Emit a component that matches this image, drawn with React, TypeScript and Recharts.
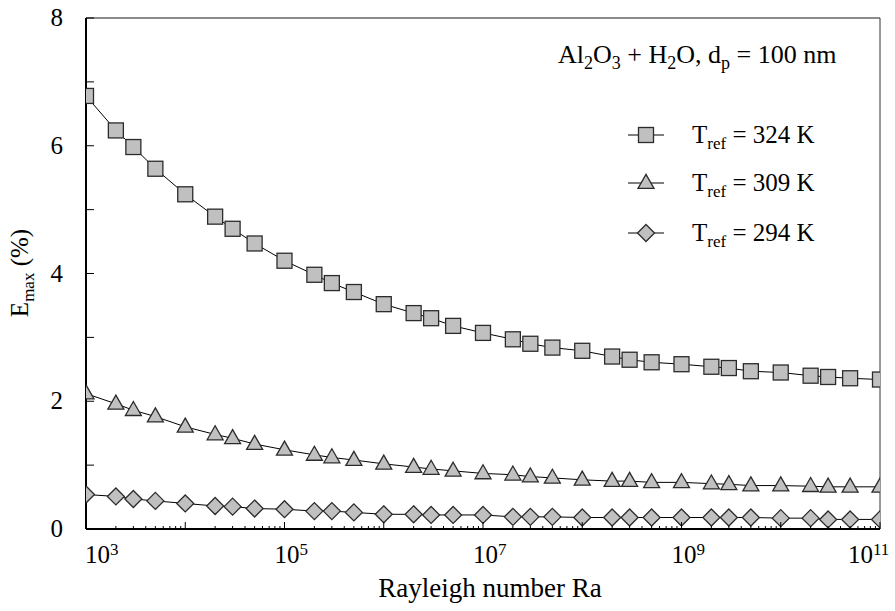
import React from "react";
import { LineChart, Line, XAxis, YAxis, ReferenceLine } from "recharts";

const FONT = "'Liberation Serif', 'DejaVu Serif', 'Times New Roman', serif";

// Rayleigh numbers (1, 2, 3, 5 per decade)
const ra = [
  1e3, 2e3, 3e3, 5e3, 1e4, 2e4, 3e4, 5e4,
  1e5, 2e5, 3e5, 5e5, 1e6, 2e6, 3e6, 5e6,
  1e7, 2e7, 3e7, 5e7, 1e8, 2e8, 3e8, 5e8,
  1e9, 2e9, 3e9, 5e9, 1e10, 2e10, 3e10, 5e10, 1e11,
];

// E_max (%) for each reference temperature
const emax324 = [
  6.78, 6.24, 5.98, 5.64, 5.24, 4.89, 4.7, 4.47,
  4.2, 3.98, 3.85, 3.71, 3.52, 3.38, 3.3, 3.18,
  3.07, 2.97, 2.9, 2.84, 2.79, 2.7, 2.65, 2.61,
  2.58, 2.54, 2.52, 2.47, 2.45, 2.4, 2.38, 2.36, 2.34,
];
const emax309 = [
  2.12, 1.96, 1.86, 1.76, 1.6, 1.48, 1.42, 1.33,
  1.24, 1.16, 1.12, 1.08, 1.02, 0.97, 0.94, 0.91,
  0.87, 0.85, 0.82, 0.8, 0.77, 0.75, 0.75, 0.73,
  0.73, 0.71, 0.7, 0.68, 0.68, 0.67, 0.66, 0.66, 0.66,
];
const emax294 = [
  0.54, 0.51, 0.47, 0.44, 0.4, 0.36, 0.35, 0.32,
  0.31, 0.28, 0.28, 0.26, 0.23, 0.23, 0.22, 0.22,
  0.22, 0.19, 0.19, 0.19, 0.18, 0.18, 0.18, 0.18,
  0.18, 0.18, 0.18, 0.18, 0.17, 0.17, 0.15, 0.15, 0.15,
];

const decades = [1e3, 1e4, 1e5, 1e6, 1e7, 1e8, 1e9, 1e10, 1e11];
const labelledExps = [3, 5, 7, 9, 11];
const minorSteps = [2, 3, 4, 5, 6, 7, 8, 9];
const yTicks = [0, 1, 2, 3, 4, 5, 6, 7, 8];

const xTicks = [
  ...decades,
  ...decades.slice(0, -1).flatMap((d) => minorSteps.map((m) => m * d)),
].sort((a, b) => a - b);

const rows = ra.map((r, i) => ({
  ra: r,
  t324: emax324[i],
  t309: emax309[i],
  t294: emax294[i],
}));

const FILL = "#c0c0c0";
const EDGE = "#2b2b2b";
const textStyle = { fontFamily: FONT };

type Shape = "square" | "triangle" | "diamond";

function Marker({ shape, cx, cy }: { shape: Shape; cx: number; cy: number }) {
  if (shape === "square") {
    return <rect x={cx - 7.5} y={cy - 7.5} width={15} height={15} fill={FILL} stroke={EDGE} strokeWidth={1.3} />;
  }
  if (shape === "triangle") {
    const s = 16, h = 14;
    return (
      <polygon
        points={`${cx},${cy - h * 0.62} ${cx - s / 2},${cy + h * 0.38} ${cx + s / 2},${cy + h * 0.38}`}
        fill={FILL} stroke={EDGE} strokeWidth={1.3}
      />
    );
  }
  const r = 8.5;
  return (
    <polygon
      points={`${cx},${cy - r} ${cx + r},${cy} ${cx},${cy + r} ${cx - r},${cy}`}
      fill={FILL} stroke={EDGE} strokeWidth={1.3}
    />
  );
}

const dotFor = (shape: Shape) => (p: any) => (
  <Marker key={`${shape}-${p.index}`} shape={shape} cx={p.cx} cy={p.cy} />
);

function XTick(props: any) {
  const { x, y, payload } = props;
  const v = payload.value as number;
  const e = Math.round(Math.log10(v));
  const major = Math.abs(v - Math.pow(10, e)) < 1e-6 * v;
  let shift = 0;
  if (e === 3) shift = 9;
  if (e === 11) shift = -22;
  return (
    <g>
      <line x1={x} x2={x} y1={y} y2={y - (major ? 7 : 3)} stroke="#000" strokeWidth={1} />
      {major && labelledExps.includes(e) && (
        <text x={x - 10 + shift} y={y + 34} fontSize={25} style={textStyle} fill="#000">
          10<tspan dy={-8} fontSize={17}>{e}</tspan>
        </text>
      )}
    </g>
  );
}

function YTick(props: any) {
  const { x, y, payload } = props;
  const v = payload.value as number;
  return (
    <g>
      <line x1={x} x2={x + 8} y1={y} y2={y} stroke="#000" strokeWidth={1} />
      {v % 2 === 0 && (
        <text x={x - 23} y={y + 8} textAnchor="end" fontSize={25} style={textStyle} fill="#000">
          {v}
        </text>
      )}
    </g>
  );
}

const legendItems: { shape: Shape; label: string }[] = [
  { shape: "square", label: "324" },
  { shape: "triangle", label: "309" },
  { shape: "diamond", label: "294" },
];
const legendY = [135, 183, 233];

export default function App() {
  return (
    <div style={{ position: "absolute", left: 0, top: 0, width: 895, height: 611, background: "#fff", fontFamily: FONT }}>
      <LineChart width={895} height={611} data={rows} margin={{ top: 18, right: 15, bottom: 81, left: 85 }}>
        <XAxis
          dataKey="ra"
          type="number"
          scale="log"
          domain={[1e3, 1e11]}
          allowDataOverflow
          ticks={xTicks}
          interval={0}
          tickSize={0}
          tickMargin={0}
          tickLine={false}
          tick={<XTick />}
          axisLine={{ stroke: "#000", strokeWidth: 2 }}
          height={1}
        />
        <YAxis
          type="number"
          domain={[0, 8]}
          ticks={yTicks}
          interval={0}
          tickSize={0}
          tickMargin={0}
          tickLine={false}
          tick={<YTick />}
          axisLine={{ stroke: "#000", strokeWidth: 2 }}
          width={1}
        />
        <ReferenceLine y={8} stroke="#666" strokeWidth={1.3} />
        <ReferenceLine x={1e11} stroke="#333" strokeWidth={1} />
        <Line type="linear" dataKey="t324" stroke="#000" strokeWidth={1} dot={dotFor("square")} isAnimationActive={false} />
        <Line type="linear" dataKey="t309" stroke="#000" strokeWidth={1} dot={dotFor("triangle")} isAnimationActive={false} />
        <Line type="linear" dataKey="t294" stroke="#000" strokeWidth={1} dot={dotFor("diamond")} isAnimationActive={false} />
      </LineChart>

      <svg
        width={895}
        height={611}
        style={{ position: "absolute", left: 0, top: 0, pointerEvents: "none", fontFamily: FONT }}
      >
        {/* annotation */}
        <text x={558} y={63} fontSize={26} fill="#000" style={textStyle}>
          Al<tspan dy={6} fontSize={18}>2</tspan>
          <tspan dy={-6}>O</tspan>
          <tspan dy={6} fontSize={18}>3</tspan>
          <tspan dy={-6}> + H</tspan>
          <tspan dy={6} fontSize={18}>2</tspan>
          <tspan dy={-6}>O, d</tspan>
          <tspan dy={6} fontSize={18}>p</tspan>
          <tspan dy={-6}> = 100 nm</tspan>
        </text>

        {/* legend */}
        {legendItems.map((it, i) => (
          <g key={it.label}>
            <line x1={628} x2={664} y1={legendY[i]} y2={legendY[i]} stroke="#000" strokeWidth={1} />
            <Marker shape={it.shape} cx={646} cy={legendY[i]} />
            <text x={692} y={legendY[i] + 8} fontSize={25} fill="#000" style={textStyle}>
              T<tspan dy={6} fontSize={17}>ref</tspan>
              <tspan dy={-6}> = {it.label} K</tspan>
            </text>
          </g>
        ))}

        {/* axis titles */}
        <text x={490} y={597} textAnchor="middle" fontSize={27} fill="#000" style={textStyle}>
          Rayleigh number Ra
        </text>
        <text transform="translate(28,273) rotate(-90)" textAnchor="middle" fontSize={25} fill="#000" style={textStyle}>
          E<tspan dy={6} fontSize={17}>max</tspan>
          <tspan dy={-6}> (%)</tspan>
        </text>
      </svg>
    </div>
  );
}
